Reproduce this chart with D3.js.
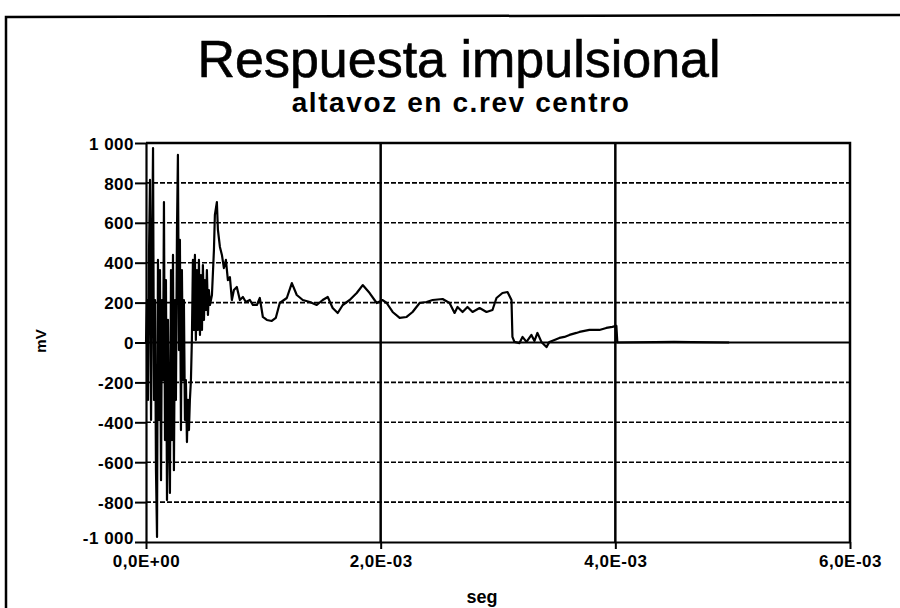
<!DOCTYPE html>
<html>
<head>
<meta charset="utf-8">
<script src="https://cdn.jsdelivr.net/npm/d3@7"></script>
<style>
  html, body { margin: 0; padding: 0; background: #fff; }
  svg { display: block; font-family: "Liberation Sans", Arial, sans-serif; }
</style>
</head>
<body>
<div class="chart"></div>
<script>
// tick values and labels
const yTicks = [-1000, -800, -600, -400, -200, 0, 200, 400, 600, 800, 1000];
const yTickLabels = ["-1 000", "-800", "-600", "-400", "-200", "0", "200", "400", "600", "800", "1 000"];
const xTicks = [0, 0.002, 0.004, 0.006];
const xTickLabels = ["0,0E+00", "2,0E-03", "4,0E-03", "6,0E-03"];

// impulse response, time in microseconds, amplitude in mV
const timeUs = [0, 9, 17, 26, 34, 43, 51, 60, 68, 77, 85, 94, 102, 111, 119, 128, 136, 145, 153, 162,
  170, 179, 187, 196, 204, 213, 221, 230, 238, 247, 255, 264, 272, 281, 289, 298, 306, 315, 323, 332,
  340, 349, 357, 366, 374, 383, 391, 400, 408, 417, 425, 434, 442, 451, 460, 468, 477, 485, 494, 502,
  511, 519, 528, 536, 545, 562, 579, 587, 604, 613, 630, 647, 664, 681, 698, 715, 732, 749, 774, 800,
  826, 851, 885, 911, 945, 970, 996, 1030, 1072, 1106, 1140, 1200, 1243, 1285, 1336, 1396, 1455, 1506, 1549, 1591,
  1634, 1677, 1736, 1796, 1847, 1906, 1966, 2017, 2051, 2102, 2162, 2221, 2272, 2332, 2391, 2443, 2528, 2587, 2630, 2655,
  2698, 2740, 2783, 2843, 2902, 2953, 2987, 3038, 3081, 3098, 3115, 3123, 3140, 3183, 3209, 3243, 3285, 3311, 3336, 3370,
  3413, 3438, 3481, 3523, 3566, 3609, 3668, 3694, 3779, 3864, 3923, 3974, 4009, 4017, 4500, 4970];
const mV = [0, 213, -288, 464, 815, -388, 414, 975, -288, 213, -640, -975, 414, -388, 363, -690, 213, -188, 704, -489,
  313, -790, 113, -439, -754, 363, -489, 439, -640, 213, -288, 564, 940, -38, 514, -439, 363, -188, 213, -388,
  -188, -499, -288, -439, -288, -188, 13, 414, 63, 439, 13, 363, 63, 414, 38, 338, 63, 388, 113, 313,
  163, 363, 138, 263, 188, 238, 464, 639, 704, 564, 479, 439, 373, 414, 313, 328, 213, 263, 278, 213,
  228, 203, 213, 188, 188, 223, 128, 113, 108, 123, 198, 223, 298, 238, 213, 203, 188, 213, 228, 173,
  148, 188, 213, 248, 288, 248, 198, 213, 198, 153, 123, 128, 153, 198, 203, 213, 218, 198, 148, 178,
  153, 178, 153, 173, 153, 163, 223, 248, 253, 233, 213, 28, 3, -3, 28, 3, 38, 8, 48, 3,
  -23, 3, 13, 23, 28, 38, 48, 53, 63, 63, 73, 78, 83, 0, 3, 0];

const W = 900, H = 608;
const plot = { left: 146, right: 850, top: 143, bottom: 542 };

const svg = d3.select('.chart')
  .append('svg')
    .attr('width', W)
    .attr('height', H);

// scanned page frame
svg.append('path')
  .attr('d', `M6,608 L6,17 L900,15`)
  .attr('fill', 'none')
  .attr('stroke', '#000')
  .attr('stroke-width', 2.5);

const x = d3.scaleLinear().domain([0, 0.006]).range([plot.left, plot.right]);
const y = d3.scaleLinear().domain([-1000, 1000]).range([plot.bottom, plot.top]);

// horizontal grid
svg.append('g')
  .selectAll('line')
  .data(yTicks.filter(d => d > -1000 && d < 1000))
  .enter()
  .append('line')
    .attr('x1', plot.left)
    .attr('x2', plot.right)
    .attr('y1', d => y(d))
    .attr('y2', d => y(d))
    .attr('stroke', '#000')
    .attr('stroke-width', d => d === 0 ? 2 : 1.6)
    .attr('stroke-dasharray', d => d === 0 ? null : '5,2');

// vertical grid
svg.append('g')
  .selectAll('line')
  .data(xTicks.filter(d => d > 0 && d < 0.006))
  .enter()
  .append('line')
    .attr('x1', d => x(d))
    .attr('x2', d => x(d))
    .attr('y1', plot.top)
    .attr('y2', plot.bottom)
    .attr('stroke', '#000')
    .attr('stroke-width', 2.5);

// top and right border of plot
svg.append('path')
  .attr('d', `M${plot.left},${plot.top} L${plot.right},${plot.top} L${plot.right},${plot.bottom}`)
  .attr('fill', 'none')
  .attr('stroke', '#000')
  .attr('stroke-width', 2.5);

// axes
const yAxis = svg.append('g')
  .attr('transform', `translate(${plot.left},0)`)
  .call(d3.axisLeft(y).tickValues(yTicks).tickSize(11).tickSizeOuter(0)
    .tickFormat((d, i) => yTickLabels[i]));

const xAxis = svg.append('g')
  .attr('transform', `translate(0,${plot.bottom})`)
  .call(d3.axisBottom(x).tickValues(xTicks).tickSize(7).tickSizeOuter(0)
    .tickFormat((d, i) => xTickLabels[i]));

[yAxis, xAxis].forEach(a => {
  a.select('.domain').attr('stroke-width', 2.2);
  a.selectAll('.tick line').attr('stroke-width', 2);
  a.selectAll('text')
    .attr('fill', '#000')
    .style('font-size', '17px')
    .style('font-weight', 'bold')
    .style('letter-spacing', '0.5px');
});
yAxis.selectAll('text').attr('x', -12).attr('dy', '0.36em');
// lowest label sits a little higher so it clears the x labels
yAxis.selectAll('text').filter(d => d === -1000).attr('dy', '0.1em');
xAxis.selectAll('text').attr('y', 12).attr('dy', '0.75em');

// signal
const line = d3.line()
  .x((d, i) => x(timeUs[i] * 1e-6))
  .y(d => y(d));

svg.append('path')
  .datum(mV)
  .attr('d', line)
  .attr('fill', 'none')
  .attr('stroke', '#000')
  .attr('stroke-width', 2.2)
  .attr('stroke-linejoin', 'round');

// titles
svg.append('text')
  .attr('x', 459)
  .attr('y', 77)
  .attr('text-anchor', 'middle')
  .style('font-size', '52px')
  .style('stroke', '#000')
  .style('stroke-width', 0.6)
  .text('Respuesta impulsional');

svg.append('text')
  .attr('x', 461)
  .attr('y', 112)
  .attr('text-anchor', 'middle')
  .style('font-size', '28px')
  .style('font-weight', 'bold')
  .style('letter-spacing', '1.6px')
  .text('altavoz en c.rev centro');

svg.append('text')
  .attr('x', 482)
  .attr('y', 603)
  .attr('text-anchor', 'middle')
  .style('font-size', '18px')
  .style('font-weight', 'bold')
  .text('seg');

svg.append('text')
  .attr('transform', 'translate(46,341) rotate(-90)')
  .attr('text-anchor', 'middle')
  .style('font-size', '15px')
  .style('font-weight', 'bold')
  .text('mV');
</script>
</body>
</html>
